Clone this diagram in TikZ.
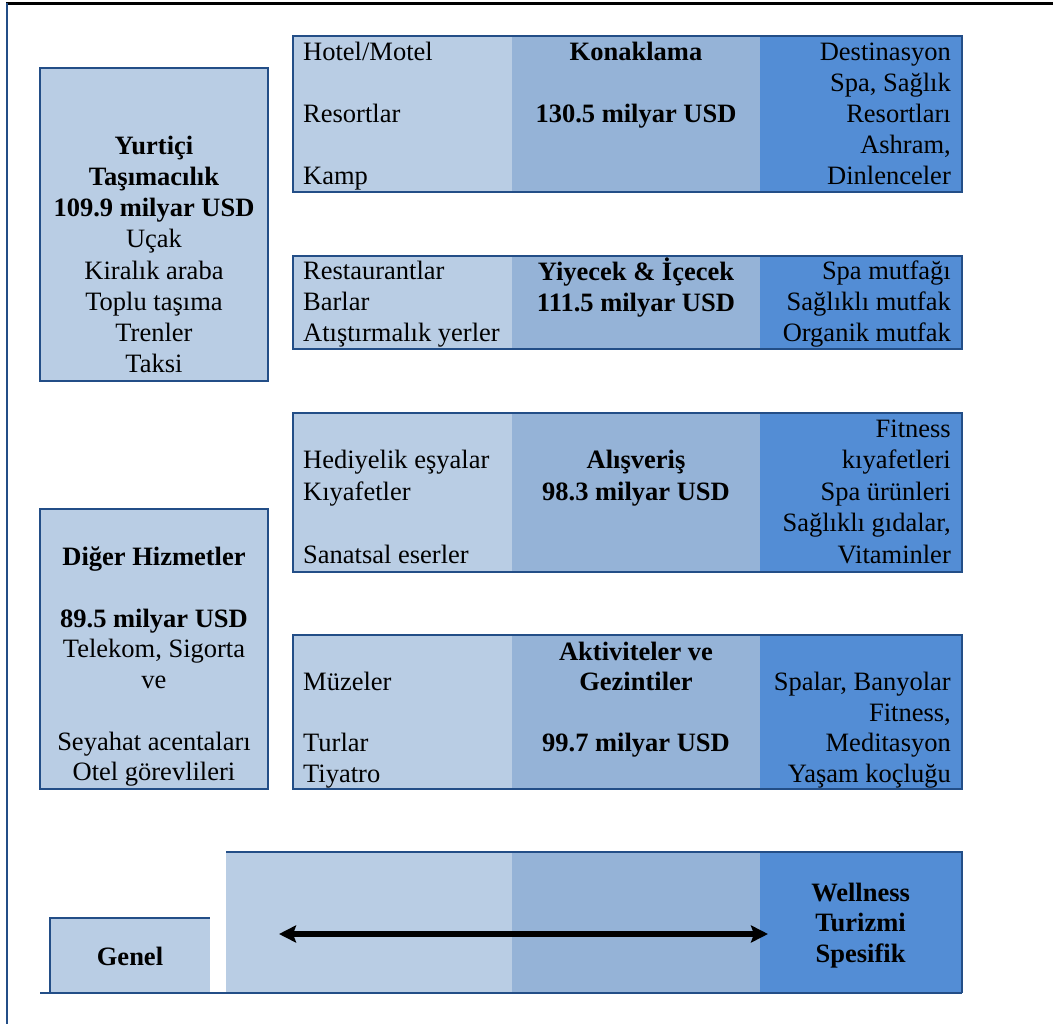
\documentclass[tikz,border=0pt]{standalone}
\usepackage{fontspec}
\setmainfont{Liberation Serif}
\usetikzlibrary{arrows.meta}
\definecolor{cLight}{RGB}{185,205,228}
\definecolor{cMed}{RGB}{149,179,215}
\definecolor{cDark}{RGB}{83,141,213}
\definecolor{cBord}{RGB}{35,78,135}
\newcommand{\rowband}[2]{%
  \fill[cLight] (293,#1) rectangle (512,#2);
  \fill[cMed] (512,#1) rectangle (760,#2);
  \fill[cDark] (760,#1) rectangle (962,#2);
  \draw[bord] (293,#1) rectangle (962,#2);}
\begin{document}
\begin{tikzpicture}[x=1pt,y=-1pt,
  cf/.style={font=\fontsize{26.5}{#1}\selectfont}, cf/.default=31,
  lt/.style={anchor=north west,inner sep=0pt,align=left,cf=#1}, lt/.default=31,
  ct/.style={anchor=north,inner sep=0pt,align=center,cf=#1}, ct/.default=31,
  rt/.style={anchor=north east,inner sep=0pt,align=right,cf=#1}, rt/.default=31,
  bord/.style={draw=cBord,line width=2pt},
  bigarrow/.style={line width=5.5pt,{Stealth[length=17pt,width=17pt,inset=3pt]}-{Stealth[length=17pt,width=17pt,inset=3pt]}}]
\useasboundingbox (0,0) rectangle (1053,1024);
\fill[white] (0,0) rectangle (1053,1024);
% frame lines
\draw[line width=3pt] (6,4) -- (1053,4);
\draw[cBord,line width=2pt] (7,3) -- (7,1024);
% left boxes
\draw[bord,fill=cLight] (40,68) rectangle (268,381);
\draw[bord,fill=cLight] (40,509) rectangle (268,789);
% rows
\rowband{36}{192}
\rowband{256}{349}
\rowband{413}{572}
\rowband{635}{789}
% Yurtici
\node[ct=31.2] (yurt) at (154,132.16) {\strut{\bfseries Yurtiçi}\\\strut{\bfseries Taşımacılık}\\\strut{\bfseries 109.9 milyar USD}\\\strut Uçak\\\strut Kiralık araba\\\strut Toplu taşıma\\\strut Trenler\\\strut Taksi};
% Diger
\node[ct=30.7] (diger) at (154,544.2) {\strut{\bfseries Diğer Hizmetler}\\\strut\\\strut{\bfseries 89.5 milyar USD}\\\strut Telekom, Sigorta\\\strut ve\\\strut\\\strut Seyahat acentaları\\\strut Otel görevlileri};
% Konaklama
\node[lt] (k1) at (303,38.3) {\strut Hotel/Motel\\\strut\\\strut Resortlar\\\strut\\\strut Kamp};
\node[ct] (k2) at (636,38.3) {\strut{\bfseries Konaklama}\\\strut\\\strut{\bfseries 130.5 milyar USD}};
\node[rt] (k3) at (951,38.3) {\strut Destinasyon\\\strut Spa, Sağlık\\\strut Resortları\\\strut Ashram,\\\strut Dinlenceler};
% Yiyecek
\node[lt] (y1) at (303,257.8) {\strut Restaurantlar\\\strut Barlar\\\strut Atıştırmalık yerler};
\node[ct] (y2) at (636,257.8) {\strut{\bfseries Yiyecek \& İçecek}\\\strut{\bfseries 111.5 milyar USD}};
\node[rt] (y3) at (951,257.8) {\strut Spa mutfağı\\\strut Sağlıklı mutfak\\\strut Organik mutfak};
% Alisveris
\node[lt=31.5] (a1) at (303,414.95) {\strut\\\strut Hediyelik eşyalar\\\strut Kıyafetler\\\strut\\\strut Sanatsal eserler};
\node[ct=31.5] (a2) at (636,414.95) {\strut\\\strut{\bfseries Alışveriş}\\\strut{\bfseries 98.3 milyar USD}};
\node[rt=31.5] (a3) at (951,414.95) {\strut Fitness\\\strut kıyafetleri\\\strut Spa ürünleri\\\strut Sağlıklı gıdalar,\\\strut Vitaminler};
% Aktiviteler
\node[lt=30.5] (t1) at (303,638.65) {\strut\\\strut Müzeler\\\strut\\\strut Turlar\\\strut Tiyatro};
\node[ct=30.5] (t2) at (636,638.65) {\strut{\bfseries Aktiviteler ve}\\\strut{\bfseries Gezintiler}\\\strut\\\strut{\bfseries 99.7 milyar USD}};
\node[rt=30.5] (t3) at (951,638.65) {\strut\\\strut Spalar, Banyolar\\\strut Fitness,\\\strut Meditasyon\\\strut Yaşam koçluğu};
% bottom scale
\fill[cLight] (226,852) rectangle (512,993);
\fill[cMed] (512,852) rectangle (760,993);
\fill[cDark] (760,852) rectangle (962,993);
\draw[bord] (226,852) -- (962,852) -- (962,993);
\fill[cLight] (50,918) rectangle (210,993);
\draw[bord] (50,993) -- (50,918) -- (210,918);
\draw[bord] (40,993) -- (962,993);
\node[ct] (genel) at (130,943.3) {\strut{\bfseries Genel}};
\node[ct=30.5] (well) at (860.6,879.65) {\strut{\bfseries Wellness}\\\strut{\bfseries Turizmi}\\\strut{\bfseries Spesifik}};
\coordinate (aL) at (279,934);
\coordinate (aR) at (768,934);
\draw[bigarrow] (aL) -- (aR);
\end{tikzpicture}
\end{document}
